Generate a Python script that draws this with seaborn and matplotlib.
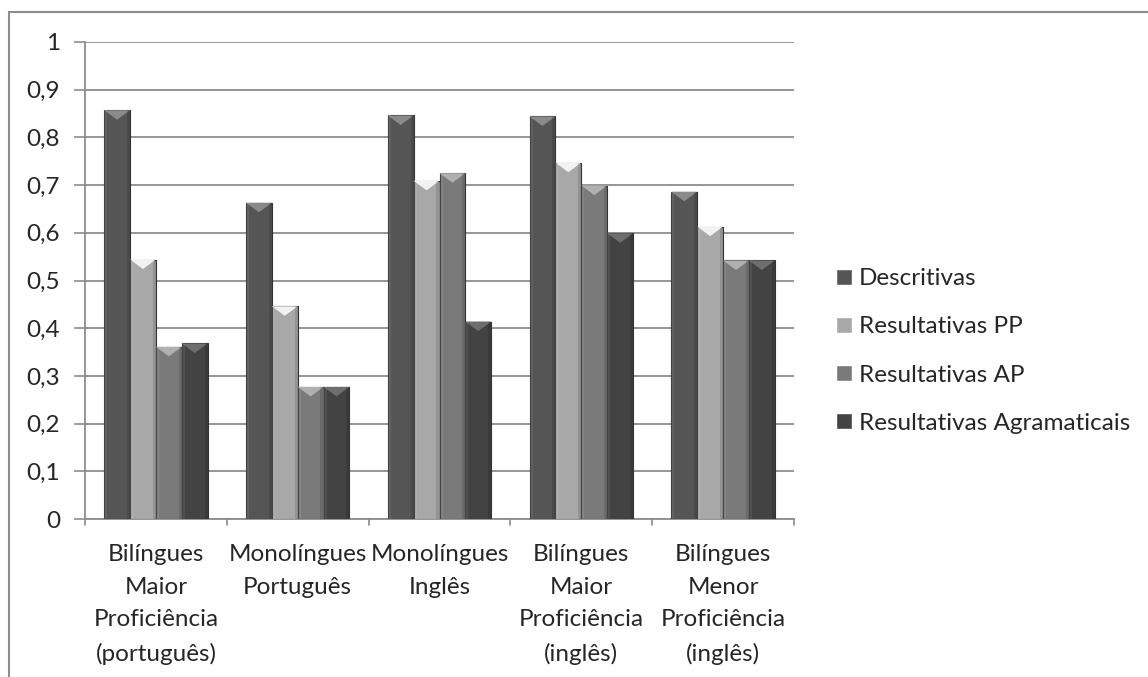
import matplotlib
matplotlib.use("Agg")
import matplotlib.pyplot as plt
from matplotlib.patches import Polygon, Rectangle
import seaborn as sns
import pandas as pd

# Data
grupos = [
    "Bilíngues\nMaior\nProficiência\n(português)",
    "Monolíngues\nPortuguês",
    "Monolíngues\nInglês",
    "Bilíngues\nMaior\nProficiência\n(inglês)",
    "Bilíngues\nMenor\nProficiência\n(inglês)",
]
series = ["Descritivas", "Resultativas PP", "Resultativas AP", "Resultativas Agramaticais"]
descritivas = [0.857, 0.663, 0.846, 0.844, 0.686]
resultativas_pp = [0.544, 0.446, 0.709, 0.747, 0.613]
resultativas_ap = [0.361, 0.277, 0.725, 0.699, 0.542]
resultativas_agr = [0.368, 0.277, 0.414, 0.599, 0.542]
yticks = [0, 0.1, 0.2, 0.3, 0.4, 0.5, 0.6, 0.7, 0.8, 0.9, 1]
ytick_labels = ["0", "0,1", "0,2", "0,3", "0,4", "0,5", "0,6", "0,7", "0,8", "0,9", "1"]

cores = ["#555555", "#a8a8a8", "#7a7a7a", "#434343"]
topo = ["#8a8a8a", "#f2f2f2", "#b0b0b0", "#6e6e6e"]

rows = []
for s, vals in zip(series, [descritivas, resultativas_pp, resultativas_ap, resultativas_agr]):
    for g, v in zip(grupos, vals):
        rows.append({"grupo": g, "serie": s, "valor": v})
df = pd.DataFrame(rows)

sns.set_theme(style="white")
plt.rcParams["font.family"] = ["Lato", "DejaVu Sans"]
FS = 17.5

fig = plt.figure(figsize=(11.48, 6.77), dpi=100)
ax = fig.add_axes([85 / 1148, 1 - 519 / 677, (794 - 85) / 1148, (519 - 42) / 677])

sns.barplot(data=df, x="grupo", y="valor", hue="serie", order=grupos,
            hue_order=series, palette=cores, width=0.73, gap=0,
            saturation=1, ax=ax, legend=True, zorder=3)

# bevelled tops on each bar
for cont, c_top, c_bar in zip(ax.containers, topo, cores):
    for p in cont.patches:
        x0, w, h = p.get_x(), p.get_width(), p.get_height()
        p.set_edgecolor("#333333")
        p.set_linewidth(0.8)
        tri = Polygon([(x0, h), (x0 + w, h), (x0 + w / 2, h - 0.02)],
                      closed=True, facecolor=c_top, edgecolor="none", zorder=4)
        ax.add_patch(tri)
        ax.add_patch(Rectangle((x0, 0), w * 0.12, h, facecolor="white",
                               alpha=0.08, edgecolor="none", zorder=4))
        ax.add_patch(Rectangle((x0 + w * 0.88, 0), w * 0.12, h, facecolor="black",
                               alpha=0.12, edgecolor="none", zorder=4))

ax.set_ylim(0, 1)
ax.set_xlim(-0.5, len(grupos) - 0.5)
ax.set_yticks(yticks)
ax.set_yticklabels(ytick_labels, fontsize=FS)
ax.set_xlabel("")
ax.set_ylabel("")
ax.set_xticks(range(len(grupos)))
ax.set_xticklabels(grupos, fontsize=FS, linespacing=1.68)
ax.tick_params(axis="x", length=0, pad=18)
ax.tick_params(axis="y", length=8, width=1.2, color="#8c8c8c", left=True, pad=10)

# category separators below the axis
for b in [i - 0.5 for i in range(len(grupos) + 1)]:
    ax.plot([b, b], [0, -0.012], color="#8c8c8c", lw=1.2, clip_on=False, zorder=5)

ax.grid(axis="y", color="#8c8c8c", lw=1.3, zorder=0)
ax.set_axisbelow(True)
for side in ["top", "right"]:
    ax.spines[side].set_visible(False)
for side in ["left", "bottom"]:
    ax.spines[side].set_color("#8c8c8c")
    ax.spines[side].set_linewidth(1.3)

handles, labels = ax.get_legend_handles_labels()
ax.legend(handles, labels, loc="center left", bbox_to_anchor=(836 / 1148, 1 - 351 / 677),
          bbox_transform=fig.transFigure, frameon=False, fontsize=FS,
          handlelength=0.65, handleheight=0.65, handletextpad=0.3, labelspacing=1.12,
          borderaxespad=0, borderpad=0)

# outer chart frame
fig.add_artist(Rectangle((9 / 1148, -0.05), 1.2, 1 - 12 / 677 + 0.05,
                         transform=fig.transFigure, fill=False,
                         edgecolor="#8c8c8c", lw=1.5))

fig.savefig("out.png", dpi=100)
